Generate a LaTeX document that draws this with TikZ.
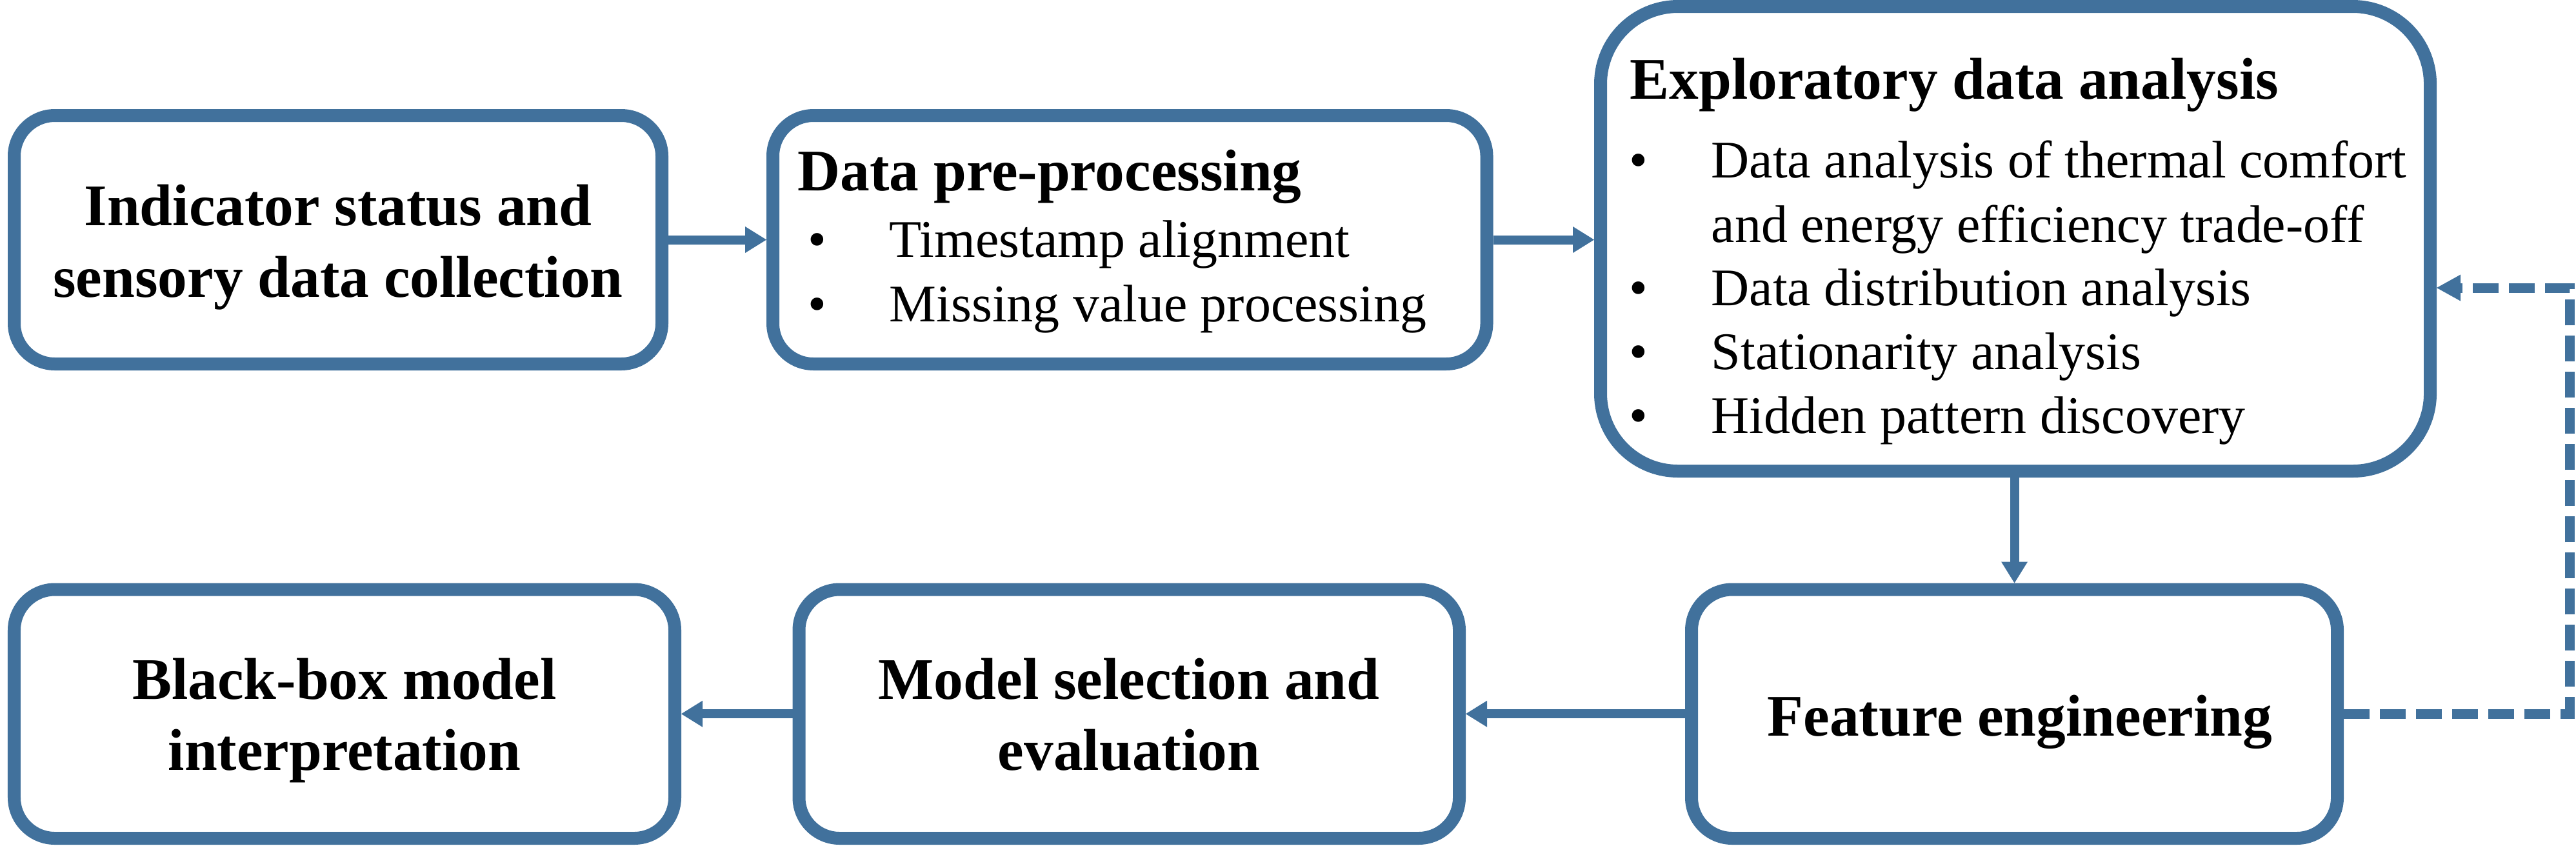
\documentclass[tikz,border=0pt]{standalone}
\usepackage{fontspec}
\setmainfont{Liberation Serif}
\usetikzlibrary{arrows.meta}
\definecolor{bcol}{HTML}{41719C}
\tikzset{
  box/.style={draw=bcol, line width=0.2cm, outer sep=0.1cm, inner sep=0pt, rounded corners=0.63cm, fill=white},
  bigbox/.style={box, rounded corners=1.2cm},
  ttl/.style={inner sep=0pt, font=\fontsize{26}{31}\selectfont\bfseries},
  body/.style={inner sep=0pt, font=\fontsize{23.3}{28}\selectfont},
  arr/.style={draw=bcol, line width=0.14cm, -{Triangle[length=0.33cm,width=0.41cm,line width=0pt]}},
  dsh/.style={draw=bcol, line width=0.15cm, dash pattern=on 0.4cm off 0.16cm, line join=miter, -{Triangle[length=0.37cm,width=0.41cm,line width=0pt]}}
}
\begin{document}
\begin{tikzpicture}
\useasboundingbox (0,0) rectangle (39.93,-13.10);
% boxes
\node[box, minimum width=10.04cm, minimum height=3.85cm] (b1) at (5.24,-3.715) {};
\node[box, minimum width=11.065cm, minimum height=3.85cm] (b2) at (17.5125,-3.715) {};
\node[bigbox, minimum width=12.86cm, minimum height=7.20cm] (b3) at (31.24,-3.70) {};
\node[box, minimum width=10.01cm, minimum height=3.855cm] (b4) at (31.225,-11.0625) {};
\node[box, minimum width=10.235cm, minimum height=3.855cm] (b5) at (17.5025,-11.0625) {};
\node[box, minimum width=10.24cm, minimum height=3.855cm] (b6) at (5.34,-11.0625) {};
% box 1 text
\node[ttl, anchor=base] (t1a) at (5.24,-3.495) {Indicator status and};
\node[ttl, anchor=base] (t1b) at (5.24,-4.60) {sensory data collection};
% box 2 text
\node[ttl, anchor=base west] (t2) at (12.36,-2.95) {Data pre-processing};
\node[body, anchor=base] (t2p1) at (12.67,-3.985) {•};
\node[body, anchor=base] (t2p2) at (12.67,-4.98) {•};
\node[body, anchor=base west] (t2a) at (13.78,-3.985) {Timestamp alignment};
\node[body, anchor=base west] (t2b) at (13.78,-4.98) {Missing value processing};
% box 3 text
\node[ttl, anchor=base west] (t3) at (25.26,-1.53) {Exploratory data analysis};
\node[body, anchor=base] (t3p1) at (25.40,-2.755) {•};
\node[body, anchor=base] (t3p2) at (25.40,-4.735) {•};
\node[body, anchor=base] (t3p3) at (25.40,-5.724) {•};
\node[body, anchor=base] (t3p4) at (25.40,-6.71) {•};
\node[body, anchor=base west] (t3a) at (26.52,-2.755) {Data analysis of thermal comfort};
\node[body, anchor=base west] (t3b) at (26.52,-3.75) {and energy efficiency trade-off};
\node[body, anchor=base west] (t3c) at (26.52,-4.735) {Data distribution analysis};
\node[body, anchor=base west] (t3d) at (26.52,-5.724) {Stationarity analysis};
\node[body, anchor=base west] (t3e) at (26.52,-6.71) {Hidden pattern discovery};
% box 4 text
\node[ttl, anchor=base] (t4) at (31.31,-11.40) {Feature engineering};
% box 5 text
\node[ttl, anchor=base] (t5a) at (17.50,-10.83) {Model selection and};
\node[ttl, anchor=base] (t5b) at (17.50,-11.93) {evaluation};
% box 6 text
\node[ttl, anchor=base] (t6a) at (5.34,-10.83) {Black-box model};
\node[ttl, anchor=base] (t6b) at (5.34,-11.93) {interpretation};
% connectors
\draw[arr] (b1.east) -- (b2.west);
\draw[arr] (b2.east) -- (b2.east -| b3.west);
\draw[arr] (b4.north |- b3.south) -- (b4.north);
\draw[arr] (b4.west) -- (b5.east);
\draw[arr] (b5.west) -- (b6.east);
\coordinate (dbot) at (39.83,-11.0625);
\coordinate (dtop) at (39.83,-4.46);
\draw[dsh] (b4.east) -- (dbot) -- (dtop) -- (b3.east |- dtop);
\end{tikzpicture}
\end{document}
